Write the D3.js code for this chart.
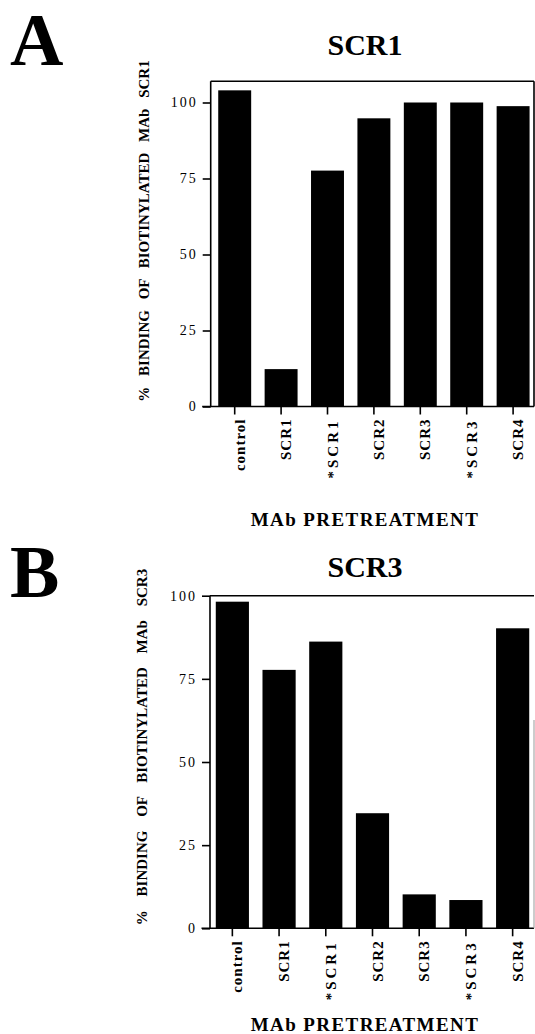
<!DOCTYPE html>
<html>
<head>
<meta charset="utf-8">
<title>MAb pretreatment binding</title>
<style>
  body{margin:0;background:#fff;}
  svg text{font-family:"Liberation Serif","Times New Roman",serif;fill:#000;}
</style>
</head>
<body>
<div id="container"></div>
<script src="https://cdn.jsdelivr.net/npm/d3@7/dist/d3.min.js"></script>
<script>
// values
var categories = ["control", "SCR1", "*SCR1", "SCR2", "SCR3", "*SCR3", "SCR4"];
var bindingSCR1 = [104, 12.3, 77.6, 94.8, 100, 100, 98.8];
var bindingSCR3 = [98.2, 77.7, 86.2, 34.6, 10.2, 8.5, 90.2];
var yTicks = [0, 25, 50, 75, 100];
var panelLetters = ["A", "B"];
var panelTitles = ["SCR1", "SCR3"];
var yLabels = ["% BINDING OF BIOTINYLATED MAb SCR1", "% BINDING OF BIOTINYLATED MAb SCR3"];
var xTitle = "MAb PRETREATMENT";

var W = 535, H = 1034;
var svg = d3.select("#container").append("svg")
    .attr("width", W).attr("height", H);

// layout of the two panels
var panels = [
  {values: bindingSCR1, y0: 406.5, y100: 102.5, topVal: 107, axisX: 210.7,
   xLeft: 211.5, xRight: 536.3, right: 534, letterY: 65, titleY: 55,
   yLabelX: 149, yLabelMid: 231, wordSp: 7, xTitleY: 526, rightFrom: null},
  {values: bindingSCR3, y0: 928.3, y100: 595.7, topVal: 100, axisX: 210,
   xLeft: 209, xRight: 536, right: 534, letterY: 597, titleY: 577,
   yLabelX: 147, yLabelMid: 747, wordSp: 10, xTitleY: 1031, rightFrom: 720}
];

panels.forEach(function(p, k){ drawPanel(p, k); });

function drawPanel(p, k){
  var y = d3.scaleLinear().domain([0, 100]).range([p.y0, p.y100]);
  var x = d3.scaleBand().domain(categories)
      .range([p.xLeft, p.xRight]).paddingInner(0.29).paddingOuter(0.145);

  var g = svg.append("g").attr("class", "panel");

  // panel letter
  g.append("text")
    .attr("x", 10).attr("y", p.letterY)
    .style("font-size", "74px").style("font-weight", "700")
    .text(panelLetters[k]);

  // title
  g.append("text")
    .attr("x", 365).attr("y", p.titleY)
    .attr("text-anchor", "middle")
    .style("font-size", "30px").style("font-weight", "700")
    .text(panelTitles[k]);

  // bars
  g.selectAll("rect.bar")
    .data(categories.map(function(c, i){ return {c: c, v: p.values[i]}; }))
    .join("rect")
    .attr("class", "bar")
    .attr("x", function(d){ return x(d.c); })
    .attr("y", function(d){ return y(d.v); })
    .attr("width", x.bandwidth())
    .attr("height", function(d){ return y(0) - y(d.v); })
    .attr("fill", "#000");

  // frame
  var top = y(p.topVal);
  g.append("line").attr("x1", p.axisX).attr("x2", p.axisX)
    .attr("y1", top).attr("y2", y(0));
  g.append("line").attr("x1", p.axisX).attr("x2", p.right)
    .attr("y1", top).attr("y2", top);
  g.append("line").attr("x1", p.axisX - 8.5).attr("x2", p.right)
    .attr("y1", y(0)).attr("y2", y(0));
  g.selectAll("line").attr("stroke", "#000").attr("stroke-width", 1.6);

  g.append("line").attr("x1", p.right).attr("x2", p.right)
    .attr("y1", p.rightFrom == null ? top : p.rightFrom).attr("y2", y(0))
    .attr("stroke", p.rightFrom == null ? "#000" : "#999")
    .attr("stroke-width", p.rightFrom == null ? 1.6 : 1);

  // y axis
  var yAxis = d3.axisLeft(y).tickValues(yTicks).tickSizeInner(8).tickSizeOuter(0).tickPadding(5);
  var ya = g.append("g").attr("transform", "translate(" + p.axisX + ",0)").call(yAxis);
  ya.select(".domain").remove();
  ya.selectAll(".tick line").attr("stroke", "#000").attr("stroke-width", 1.6);
  ya.selectAll(".tick text")
    .style("font-size", "14px").style("letter-spacing", "2px")
    .attr("font-family", null);

  // x axis
  var xAxis = d3.axisBottom(x).tickSizeInner(8).tickSizeOuter(0).tickPadding(0);
  var xa = g.append("g").attr("transform", "translate(0," + y(0) + ")").call(xAxis);
  xa.select(".domain").remove();
  xa.selectAll(".tick line").attr("stroke", "#000").attr("stroke-width", 1.6);
  xa.selectAll(".tick text")
    .attr("transform", "rotate(-90)")
    .attr("text-anchor", "end")
    .attr("x", -12).attr("y", 10).attr("dy", 0)
    .style("font-size", "15px").style("font-weight", "700")
    .style("letter-spacing", function(d){ return d.charAt(0) == "*" ? "3px" : "1px"; });

  // y label
  g.append("text")
    .attr("transform", "translate(" + p.yLabelX + "," + p.yLabelMid + ") rotate(-90)")
    .attr("text-anchor", "middle")
    .style("font-size", "15px").style("font-weight", "700")
    .style("word-spacing", p.wordSp + "px")
    .text(yLabels[k]);

  // x title
  g.append("text")
    .attr("x", 365).attr("y", p.xTitleY)
    .attr("text-anchor", "middle")
    .style("font-size", "19px").style("font-weight", "700")
    .style("letter-spacing", "1.4px")
    .text(xTitle);
}
</script>
</body>
</html>
